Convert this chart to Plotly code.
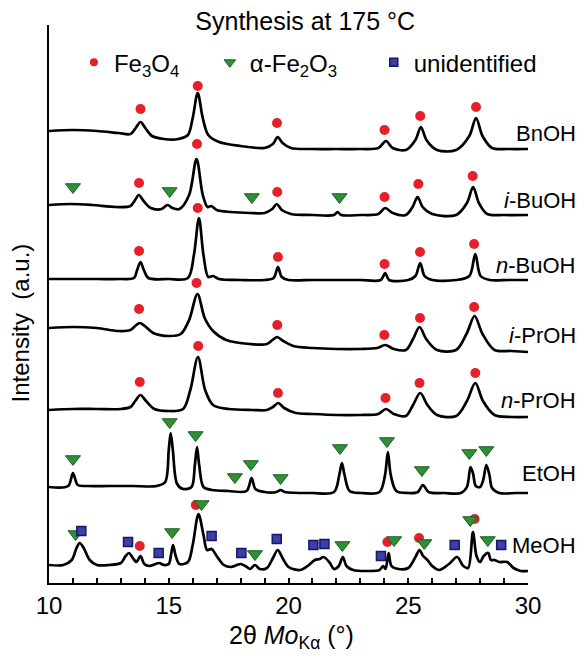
import plotly.graph_objects as go

# ---------------- data (2theta in degrees, stacked intensity in a.u.) ----------------
samples = ["BnOH", "i-BuOH", "n-BuOH", "i-PrOH", "n-PrOH", "EtOH", "MeOH"]
sample_labels = ["BnOH", "<i>i</i>-BuOH", "<i>n</i>-BuOH", "<i>i</i>-PrOH",
                 "<i>n</i>-PrOH", "EtOH", "MeOH"]

tt_bnoh = [10.0, 11.0, 12.0, 12.9, 13.4, 13.62, 13.82, 14.02, 14.3, 14.8, 15.4, 15.8, 16.0, 16.21,
           16.42, 16.65, 17.1, 18.0, 19.0, 19.35, 19.55, 19.75, 20.1, 21.0, 22.0, 23.0, 23.75,
           24.07, 24.35, 24.9, 25.3, 25.53, 25.76, 26.2, 27.0, 27.55, 27.83, 28.1, 28.5, 29.2, 30.0]
i_bnoh = [452, 453, 452, 450, 449, 455, 461, 455, 447, 444, 444, 448, 465, 490,
          465, 448, 441, 437, 435, 439, 446, 440, 435, 434, 434, 434, 435,
          442, 435, 433, 443, 456, 443, 433, 433, 447, 465, 447, 435, 434, 434]

tt_ibuoh = [10.0, 10.9, 11.8, 12.8, 13.4, 13.57, 13.75, 13.95, 14.25, 14.7, 14.95, 15.15, 15.45,
            15.85, 16.16, 16.42, 16.62, 16.78, 17.0, 17.6, 18.4, 19.0, 19.32, 19.51, 19.72, 20.1,
            21.0, 21.9, 22.05, 22.2, 23.0, 23.75, 24.04, 24.35, 24.9, 25.18, 25.39, 25.6, 26.0,
            27.0, 27.45, 27.71, 27.95, 28.3, 29.0, 30.0]
i_ibuoh = [378, 379, 378, 376, 377, 382, 388, 382, 375, 374, 378, 375, 374,
           388, 424, 388, 376, 377, 373, 371, 370, 370, 374, 379, 373, 369,
           368, 368, 371, 368, 368, 369, 375, 370, 368, 376, 386, 376, 369,
           368, 380, 396, 380, 369, 368, 368]

tt_nbuoh = [10.0, 11.0, 12.0, 13.0, 13.55, 13.68, 13.82, 13.96, 14.15, 15.0, 15.8, 16.05, 16.26,
            16.45, 16.65, 16.85, 17.1, 18.0, 19.0, 19.38, 19.56, 19.72, 20.0, 21.0, 22.0, 23.0,
            23.85, 24.04, 24.2, 25.0, 25.3, 25.5, 25.68, 26.0, 27.0, 27.55, 27.8, 28.02, 28.4,
            29.2, 30.0]
i_nbuoh = [304, 304, 304, 304, 305, 313, 321, 313, 305, 304, 305, 328, 365,
           328, 306, 307, 304, 303, 303, 305, 316, 306, 303, 303, 303, 303,
           303, 310, 303, 303, 307, 320, 307, 303, 303, 307, 329, 307, 303,
           303, 303]

tt_iproh = [10.0, 11.0, 12.0, 12.9, 13.4, 13.6, 13.79, 14.0, 14.35, 15.0, 15.5, 15.85, 16.2,
            16.5, 16.85, 17.4, 18.4, 19.1, 19.33, 19.53, 19.78, 20.2, 21.0, 22.0, 23.0, 23.7,
            24.04, 24.4, 24.9, 25.2, 25.47, 25.75, 26.2, 27.0, 27.45, 27.77, 28.1, 28.6, 29.3,
            30.0]
i_iproh = [255, 256, 255, 252, 253, 257, 260, 257, 250, 247, 249, 263, 289,
           265, 252, 243, 239, 239, 243, 246, 242, 237, 235, 234, 234, 235,
           238, 234, 233, 244, 256, 244, 233, 233, 250, 267, 249, 233, 232,
           231]

tt_nproh = [10.0, 11.0, 12.0, 13.0, 13.4, 13.6, 13.82, 14.05, 14.4, 15.0, 15.6, 15.9, 16.22,
            16.52, 16.85, 17.5, 18.5, 19.1, 19.35, 19.57, 19.82, 20.3, 21.0, 22.0, 23.0, 23.75,
            24.07, 24.4, 24.9, 25.2, 25.5, 25.8, 26.2, 27.0, 27.45, 27.8, 28.12, 28.6, 29.3,
            30.0]
i_nproh = [173, 174, 174, 174, 176, 182, 188, 182, 174, 172, 174, 193, 226,
           193, 178, 174, 173, 173, 176, 180, 175, 170, 169, 168, 168, 169,
           174, 169, 167, 178, 190, 178, 168, 167, 182, 200, 182, 168, 166,
           166]

tt_etoh = [10.0, 10.8, 11.0, 11.2, 11.6, 12.5, 13.5, 14.5, 14.85, 15.0, 15.08, 15.17, 15.35,
           15.6, 15.95, 16.09, 16.18, 16.27, 16.45, 16.8, 17.5, 18.25, 18.46, 18.62, 19.0, 19.5,
           19.67, 19.85, 21.0, 21.9, 22.12, 22.23, 22.34, 22.55, 23.0, 23.8, 24.03, 24.15, 24.27,
           24.5, 25.0, 25.4, 25.61, 25.85, 26.5, 27.2, 27.45, 27.6, 27.71, 27.82, 28.0, 28.13,
           28.26, 28.39, 28.5, 28.8, 29.5, 30.0]
i_etoh = [96, 97, 110, 98, 97, 97, 97, 97, 101, 133, 150, 133, 99,
          94, 96, 118, 136, 118, 96, 93, 92, 92, 105, 94, 91, 91,
          93, 91, 90, 91, 108, 120, 108, 92, 90, 91, 108, 131, 108,
          92, 90, 91, 98, 91, 90, 90, 96, 116, 109, 97, 96, 103,
          118, 108, 95, 90, 90, 90]

tt_meoh = [10.0, 10.6, 10.95, 11.15, 11.28, 11.45, 11.7, 12.0, 12.5, 13.0, 13.2, 13.34, 13.5,
           13.65, 13.82, 13.98, 14.2, 14.45, 14.6, 14.8, 15.0, 15.1, 15.18, 15.28, 15.45, 15.8,
           16.0, 16.24, 16.45, 16.6, 16.79, 17.0, 17.3, 17.6, 17.85, 18.0, 18.2, 18.4, 18.6,
           18.8, 19.1, 19.35, 19.55, 19.75, 20.0, 20.5, 20.8, 21.1, 21.3, 21.46, 21.7, 21.9,
           22.1, 22.27, 22.42, 22.7, 23.3, 23.8, 23.95, 24.05, 24.18, 24.3, 24.6, 25.0, 25.3,
           25.47, 25.62, 25.8, 26.0, 26.3, 26.7, 27.04, 27.3, 27.5, 27.7, 27.85, 28.0, 28.15,
           28.34, 28.45, 28.6, 28.8, 29.13, 29.4, 29.7, 30.0]
i_meoh = [18, 18, 23, 35, 40, 35, 23, 18, 18, 20, 27, 30, 25,
          21, 27, 19, 17, 19, 20, 18, 19, 29, 38, 28, 19, 21,
          38, 69, 48, 33, 34, 27, 18, 16, 18, 19, 17, 14, 18,
          14, 15, 25, 33, 25, 16, 13, 17, 23, 24, 26, 21, 14,
          17, 26, 17, 13, 12, 13, 17, 14, 30, 17, 14, 15, 26,
          33, 27, 23, 17, 13, 19, 26, 17, 15, 51, 27, 21, 27,
          30, 23, 23, 21, 21, 15, 12, 12]

# phase markers
fe3o4_tt = [13.82, 16.21, 19.52, 24.01, 25.50, 27.83,
            13.76, 16.18, 19.53, 24.01, 25.42, 27.69,
            13.76, 16.21, 19.56, 24.01, 25.49, 27.75,
            13.76, 16.16, 19.53, 24.00, 25.49, 27.75,
            13.79, 16.23, 19.56, 24.05, 25.47, 27.80,
            13.79, 16.13, 24.13, 25.45, 27.77]
fe3o4_int = [474, 497, 460, 453, 467, 476,
             400, 439, 391, 386, 399, 407,
             332, 375, 326, 319, 331, 339,
             274, 300, 258, 248, 265, 276,
             201, 237, 190, 185, 200, 210,
             37, 78, 41, 45, 64]

hematite_tt = [11.0, 15.04, 18.47, 22.13,
               11.0, 15.04, 16.12, 17.76, 18.43, 19.67, 22.15, 24.11, 25.57, 27.55, 28.26,
               11.11, 15.14, 16.37, 18.6, 22.25, 24.41, 25.67, 27.59, 28.32]
hematite_int = [396, 392, 386, 386,
                124, 161, 148, 106, 119, 105, 135, 142, 113, 130, 133,
                49, 51, 79, 29, 38, 43, 40, 63, 43]

unid_tt = [11.35, 13.30, 14.58, 16.79, 18.03, 19.51, 21.04, 21.50, 23.86, 26.94, 28.88]
unid_int = [52, 41, 30, 47, 30, 44, 38, 39, 27, 38, 38]

legend_names = ["Fe<sub>3</sub>O<sub>4</sub>", "\u03b1-Fe<sub>2</sub>O<sub>3</sub>", "unidentified"]

patterns = [(tt_bnoh, i_bnoh), (tt_ibuoh, i_ibuoh), (tt_nbuoh, i_nbuoh), (tt_iproh, i_iproh),
            (tt_nproh, i_nproh), (tt_etoh, i_etoh), (tt_meoh, i_meoh)]

# ---------------- figure ----------------
FONT = "Liberation Sans, Arial, Helvetica, sans-serif"
RED = "#e5202a"
GREEN = "#2f8f35"
GREEN_EDGE = "#1c5e22"
BLUE = "#3b3fa6"
BLUE_EDGE = "#16166a"

fig = go.Figure()

for name, (tt, inten) in zip(samples, patterns):
    fig.add_trace(go.Scatter(x=tt, y=inten, mode="lines", name=name, showlegend=False,
                             line=dict(color="black", width=2.7, shape="spline", smoothing=0.9),
                             hoverinfo="skip"))

fig.add_trace(go.Scatter(x=fe3o4_tt, y=fe3o4_int, mode="markers", showlegend=False,
                         marker=dict(symbol="circle", size=10, color=RED)))
fig.add_trace(go.Scatter(x=hematite_tt, y=hematite_int, mode="markers", showlegend=False,
                         marker=dict(symbol="triangle-down", size=13, color=GREEN,
                                     line=dict(color=GREEN_EDGE, width=1))))
fig.add_trace(go.Scatter(x=unid_tt, y=unid_int, mode="markers", showlegend=False,
                         marker=dict(symbol="square", size=9, color=BLUE,
                                     line=dict(color=BLUE_EDGE, width=1.5))))

# legend-only entries (three separate legends to reproduce the spacing)
fig.add_trace(go.Scatter(x=[None], y=[None], mode="markers", name=legend_names[0], legend="legend",
                         marker=dict(symbol="circle", size=8, color=RED)))
fig.add_trace(go.Scatter(x=[None], y=[None], mode="markers", name=legend_names[1], legend="legend2",
                         marker=dict(symbol="triangle-down", size=10, color=GREEN,
                                     line=dict(color=GREEN_EDGE, width=1))))
fig.add_trace(go.Scatter(x=[None], y=[None], mode="markers", name=legend_names[2], legend="legend3",
                         marker=dict(symbol="square", size=8, color=BLUE,
                                     line=dict(color=BLUE_EDGE, width=1.5))))

# sample labels at the right end of each pattern
for lab, (tt, inten) in zip(sample_labels, patterns):
    tail = max(v for t, v in zip(tt, inten) if t >= 28.5)
    fig.add_annotation(x=1.1035, xref="paper", y=tail + 15, yref="y", text=lab,
                       showarrow=False, xanchor="right", yanchor="middle",
                       font=dict(family=FONT, size=22, color="black"))

# axis titles as annotations
fig.add_annotation(x=-0.0575, xref="paper", y=0.466, yref="paper", text="Intensity  (a.u.)",
                   textangle=-90, showarrow=False, xanchor="center", yanchor="middle",
                   font=dict(family=FONT, size=24, color="black"))
fig.add_annotation(x=0.507, xref="paper", y=-0.096, yref="paper",
                   text="2\u03b8 <i>Mo</i><sub>K\u03b1</sub> (\u00b0)",
                   showarrow=False, xanchor="center", yanchor="middle",
                   font=dict(family=FONT, size=25, color="black"))

legend_common = dict(orientation="h", xanchor="left", yanchor="middle", yref="paper",
                     bgcolor="rgba(0,0,0,0)", borderwidth=0, itemwidth=30,
                     font=dict(family=FONT, size=24, color="black"))

fig.update_layout(
    width=582, height=656,
    margin=dict(l=49, r=54, t=25, b=73),
    paper_bgcolor="white", plot_bgcolor="white",
    font=dict(family=FONT, size=24, color="black"),
    title=dict(text="Synthesis at 175 \u00b0C", x=0.535, xref="paper", xanchor="center",
               y=1 - 21 / 656, yref="container", yanchor="middle",
               font=dict(family=FONT, size=25, color="black")),
    legend=dict(x=0.052, y=0.9324, **legend_common),
    legend2=dict(x=0.3358, y=0.9324, **legend_common),
    legend3=dict(x=0.678, y=0.9324, **legend_common),
    xaxis=dict(range=[10, 30], showline=True, linecolor="black", linewidth=2, mirror=False,
               showgrid=False, zeroline=False, ticks="inside", ticklen=5, tickwidth=1.5,
               tickcolor="black", tickvals=[10, 15, 20, 25, 30],
               minor=dict(dtick=1, ticks="inside", ticklen=5, tickwidth=1.5, tickcolor="black",
                          showgrid=False),
               tickfont=dict(family=FONT, size=24, color="black")),
    yaxis=dict(range=[0, 558], showline=True, linecolor="black", linewidth=2, mirror=False,
               showgrid=False, zeroline=False, ticks="inside", ticklen=6, tickwidth=1.5,
               tickcolor="black", tickvals=[558], showticklabels=False),
    showlegend=True,
)

fig.write_html("out.html", config={"displayModeBar": False})

# remove the default page margin so the 582x656 figure fills the window exactly
with open("out.html", encoding="utf-8") as fh:
    page = fh.read()
page = page.replace("<head>", "<head><style>html,body{margin:0;padding:0;overflow:hidden;}</style>", 1)
with open("out.html", "w", encoding="utf-8") as fh:
    fh.write(page)
